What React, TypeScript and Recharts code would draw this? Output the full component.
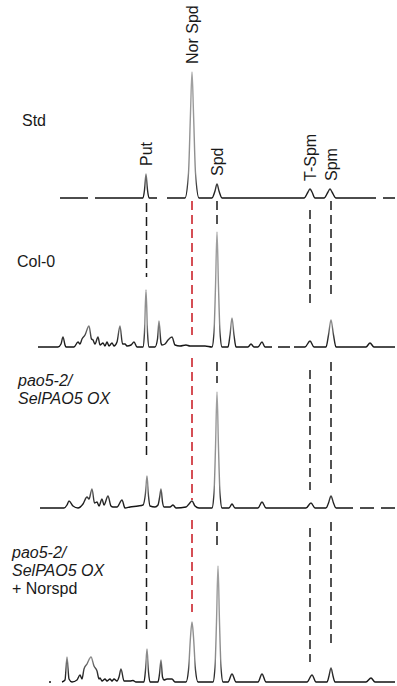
import { ComposedChart, Line, XAxis, YAxis, ReferenceLine, ReferenceDot } from 'recharts';

type Pt = [number, number | null];

// retention times (min) of the marked polyamines
const compounds = ['Put', 'Nor Spd', 'Spd', 'T-Spm', 'Spm'];
const retention = [10.85, 15.4, 17.9, 27.2, 29.3];
const markColors = ['#1a1a1a', '#c8141e', '#1a1a1a', '#1a1a1a', '#1a1a1a'];

// chromatogram traces: [time, signal]; null = break in the trace
const stdTrace: Pt[] = [
  [2.2, 0], [5.0, 0], [5.35, null], [5.7, 0], [10.5, 0], [10.65, 8], [10.8, 24], [10.95, 8], [11.1, 0],
  [11.9, 0], [12.4, null], [12.9, 0], [14.7, 0], [15.05, 25], [15.25, 85], [15.4, 126], [15.55, 85],
  [15.75, 25], [16.1, 0], [17.4, 0], [17.7, 7], [17.9, 14], [18.1, 7], [18.4, 0], [26.6, 0], [27.0, 6],
  [27.2, 9], [27.4, 6], [27.7, 0], [28.6, 0], [29.0, 6], [29.2, 9], [29.4, 6], [29.8, 0], [33.8, 0],
  [34.15, null], [34.5, 0], [35.7, 0],
];

const col0Trace: Pt[] = [
  [0, 0], [2.0, 0], [2.3, 3], [2.5, 10], [2.7, 2], [2.8, 0], [3.6, 0], [4.0, 5], [4.2, 3], [4.4, 8],
  [4.7, 12], [5.1, 21], [5.35, 8], [5.5, 7], [5.7, 3], [6.0, 10], [6.2, 2], [6.5, 4], [6.7, 1], [6.9, 5],
  [7.1, 1], [7.4, 4], [7.6, 1], [7.9, 5], [8.2, 21], [8.45, 3], [8.7, 3], [8.9, 1], [9.3, 2], [9.6, 5],
  [9.9, 0], [10.5, 0], [10.65, 15], [10.8, 57], [10.95, 15], [11.1, 0], [11.7, 0], [11.95, 8], [12.1, 26],
  [12.3, 4], [12.4, 2], [12.7, 3], [13.0, 7], [13.4, 10], [13.7, 2], [14.2, 1], [14.8, 2], [15.2, 1],
  [15.7, 1], [16.7, 1], [17.4, 0], [17.6, 15], [17.75, 60], [17.9, 115], [18.05, 60], [18.2, 15],
  [18.4, 0], [19.0, 0], [19.2, 12], [19.4, 29], [19.6, 12], [19.8, 0], [21.0, 0], [21.3, 3], [21.6, 0],
  [22.0, 0], [22.4, 5], [22.7, 0], [23.4, 0], [23.6, null], [24.0, 0], [25.2, 0], [25.4, null], [25.6, 0],
  [26.7, 0], [27.2, 6], [27.6, 0], [28.8, 0], [29.05, 12], [29.3, 27], [29.55, 12], [29.8, 0], [32.8, 0],
  [33.2, 4], [33.6, 0], [35.7, 0],
];

const paoTrace: Pt[] = [
  [0.2, 0], [2.6, 0], [2.9, 3], [3.1, 7], [3.5, 2], [4.0, 0], [4.5, 4], [4.9, 11], [5.1, 9], [5.4, 19],
  [5.65, 5], [5.9, 6], [6.1, 2], [6.4, 9], [6.6, 3], [7.0, 12], [7.3, 2], [7.5, 1], [7.9, 1], [8.4, 8],
  [8.7, 0], [9.2, 1], [10.0, 2], [10.5, 3], [10.75, 15], [10.9, 32], [11.05, 12], [11.2, 2], [11.7, 1],
  [12.0, 3], [12.15, 10], [12.3, 19], [12.45, 6], [12.6, 1], [13.2, 1], [13.5, 3], [13.8, 0], [14.8, 1],
  [15.1, 4], [15.4, 7], [15.7, 2], [16.1, 0], [17.4, 0], [17.6, 15], [17.75, 60], [17.9, 116], [18.05, 60],
  [18.2, 15], [18.4, 0], [19.1, 0], [19.4, 4], [19.7, 0], [22.0, 0], [22.4, 6], [22.8, 0], [26.8, 0],
  [27.3, 5], [27.7, 0], [28.8, 0], [29.05, 5], [29.3, 12], [29.55, 5], [29.8, 0], [31.5, 0], [31.8, null],
  [32.2, 0], [33.6, 0], [33.9, null], [34.3, 0], [35.7, 0],
];

const norTrace: Pt[] = [
  [1.1, 0], [1.3, 0], [1.5, null], [2.4, 0], [2.7, 2], [2.9, 25], [3.1, 3], [3.4, 0], [3.9, 2], [4.2, 7],
  [4.4, 3], [4.6, 13], [4.9, 18], [5.3, 25], [5.6, 16], [5.9, 11], [6.1, 3], [6.2, 4], [6.4, 1], [6.7, 3],
  [6.9, 1], [7.2, 3], [7.4, 1], [7.6, 3], [7.9, 1], [8.1, 5], [8.3, 13], [8.6, 1], [9.2, 1], [9.5, 1.5],
  [9.8, 0], [10.6, 0], [10.75, 12], [10.9, 33], [11.05, 10], [11.2, 0], [12.0, 0], [12.15, 8], [12.3, 22],
  [12.45, 5], [12.6, 2], [12.9, 3], [13.2, 3], [13.4, 3], [13.7, 0], [14.8, 0], [15.05, 12], [15.25, 45],
  [15.4, 60], [15.55, 45], [15.75, 12], [16.0, 0], [17.5, 0], [17.7, 15], [17.85, 60], [18.0, 116],
  [18.15, 60], [18.3, 15], [18.5, 0], [19.0, 0], [19.4, 8], [19.8, 0], [22.0, 0], [22.4, 8], [22.8, 0],
  [26.9, 0], [27.4, 7], [27.8, 0], [28.9, 0], [29.1, 6], [29.3, 14], [29.5, 6], [29.7, 0], [32.8, 0],
  [33.3, 4], [33.7, 0], [35.7, 0],
];

// dashed guide extents [from, to] in signal units of each panel, one per compound
const col0Marks = [[144, 70], [146, 12], [146, 122], [137, 42], [146, 49]];
const paoMarks = [[146, 51], [150, 8], [146, 125], [138, 18], [146, 23]];
const norMarks = [[160, 52], [162, 70], [160, 137], [154, 20], [160, 35]];

const W = 397;
const H = 686;
const FONT = '"Liberation Sans", Arial, sans-serif';

const panels = [
  { id: 'std', base: 198, trace: stdTrace, marks: null },
  { id: 'col0', base: 347, trace: col0Trace, marks: col0Marks },
  { id: 'pao', base: 508, trace: paoTrace, marks: paoMarks },
  { id: 'nor', base: 682, trace: norTrace, marks: norMarks },
];

const toRows = (pts: Pt[]) => pts.map(([t, v]) => ({ t, v }));

const peakTop = (pts: Pt[], rt: number) =>
  Math.max(...pts.filter(([t, v]) => v !== null && Math.abs(t - rt) < 0.35).map(([, v]) => v as number));

const RotLabel = (props: any) => {
  const { cx, cy, value } = props;
  return (
    <text
      x={cx}
      y={cy}
      transform={`rotate(-90 ${cx} ${cy})`}
      textAnchor="start"
      dominantBaseline="central"
      fontFamily={FONT}
      fontSize={16}
      fill="#1a1a1a"
    >
      {value}
    </text>
  );
};

const rowLabel: React.CSSProperties = {
  position: 'absolute',
  fontFamily: FONT,
  fontSize: 16,
  lineHeight: '18px',
  color: '#1a1a1a',
  whiteSpace: 'nowrap',
};

export default function App() {
  return (
    <div style={{ position: 'absolute', left: 0, top: 0, width: W, height: H, background: '#fff' }}>
      <ComposedChart width={W} height={H} margin={{ top: 0, right: 2, left: 38, bottom: 0 }}>
        <defs>
          <linearGradient id="traceStroke" x1="0" y1="0" x2="0" y2="1">
            <stop offset="0%" stopColor="#a2a2a2" />
            <stop offset="80%" stopColor="#8a8a8a" />
            <stop offset="92%" stopColor="#333" />
            <stop offset="100%" stopColor="#111" />
          </linearGradient>
        </defs>
        <XAxis type="number" dataKey="t" domain={[0, 35.7]} hide allowDataOverflow />
        {panels.map((p) => (
          <YAxis
            key={p.id}
            yAxisId={p.id}
            type="number"
            domain={[p.base - H, p.base]}
            allowDataOverflow
            hide
          />
        ))}

        {panels.map((p) =>
          p.marks
            ? p.marks.map(([from, to], i) => (
                <ReferenceLine
                  key={`${p.id}-${i}`}
                  yAxisId={p.id}
                  segment={[
                    { x: retention[i], y: from },
                    { x: retention[i], y: to },
                  ]}
                  stroke={markColors[i]}
                  strokeWidth={1.5}
                  strokeDasharray="9 5"
                  ifOverflow="visible"
                />
              ))
            : null
        )}

        {panels.map((p) => (
          <Line
            key={p.id}
            yAxisId={p.id}
            data={toRows(p.trace)}
            dataKey="v"
            type="monotone"
            stroke="url(#traceStroke)"
            strokeWidth={1.4}
            dot={false}
            activeDot={false}
            connectNulls={false}
            isAnimationActive={false}
          />
        ))}

        {compounds.map((name, i) => (
          <ReferenceDot
            key={name}
            yAxisId="std"
            x={retention[i]}
            y={peakTop(stdTrace, retention[i]) + 8}
            r={0}
            ifOverflow="visible"
            shape={(props: any) => <RotLabel {...props} value={name} />}
          />
        ))}
      </ComposedChart>

      <div style={{ ...rowLabel, left: 22, top: 112 }}>Std</div>
      <div style={{ ...rowLabel, left: 17, top: 253 }}>Col-0</div>
      <div style={{ ...rowLabel, left: 18, top: 372 }}>
        <i>pao5-2/</i>
        <br />
        <i>SelPAO5 OX</i>
      </div>
      <div style={{ ...rowLabel, left: 12, top: 544 }}>
        <i>pao5-2/</i>
        <br />
        <i>SelPAO5 OX</i>
        <br />+ Norspd
      </div>
    </div>
  );
}
